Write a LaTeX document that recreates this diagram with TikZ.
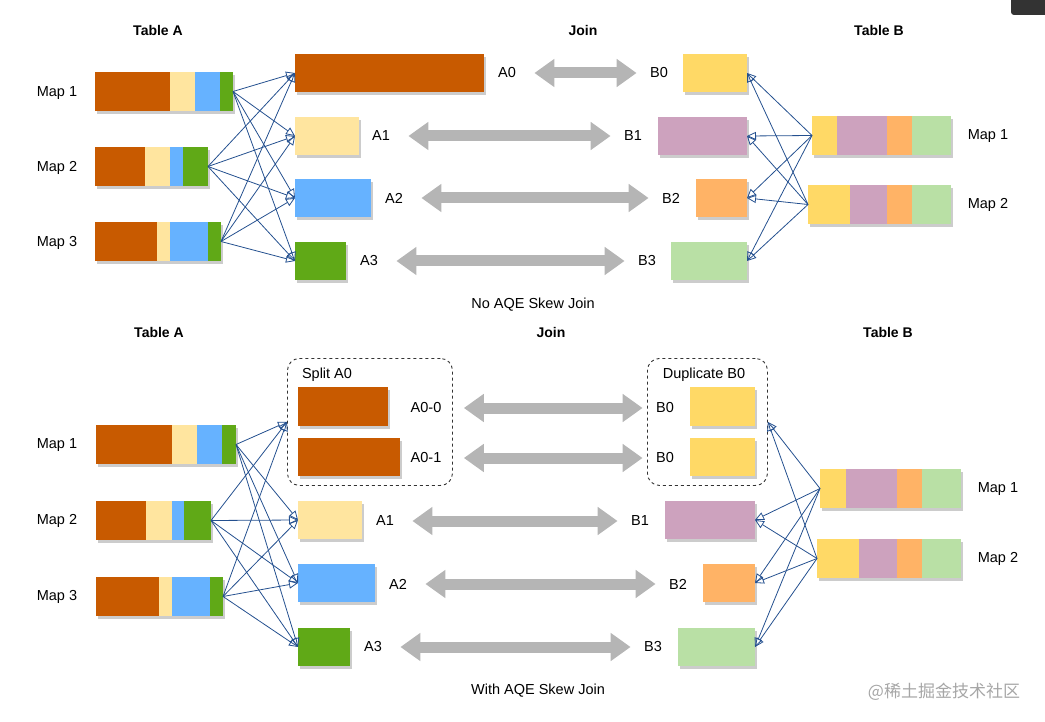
\documentclass[tikz,border=0pt]{standalone}
\usepackage{fontspec}
\setmainfont{Liberation Sans}
\newfontfamily\cjk{Noto Sans CJK SC}
\usepackage{tikz}
\usetikzlibrary{arrows.meta}
\usetikzlibrary{shadows}
\definecolor{brownA}{HTML}{C85A00}
\definecolor{yellowA}{HTML}{FFE59F}
\definecolor{blueA}{HTML}{66B2FF}
\definecolor{greenA}{HTML}{60A917}
\definecolor{yellowB}{HTML}{FFD966}
\definecolor{purpleB}{HTML}{CDA2BE}
\definecolor{orangeB}{HTML}{FFB366}
\definecolor{greenB}{HTML}{B9E0A5}
\definecolor{shuffleblue}{HTML}{24508F}
\definecolor{joingray}{HTML}{B5B5B5}

\begin{document}
\begin{tikzpicture}[x=1pt,y=-1pt,
  every node/.style={font=\fontsize{14.5}{17}\selectfont},
  title/.style={font=\bfseries\fontsize{14}{17}\selectfont},
  seg/.style={anchor=north west, inner sep=0pt, outer sep=0pt, minimum height=39pt,
    drop shadow={shadow xshift=2pt, shadow yshift=-3pt, fill=black, opacity=0.2}},
  group/.style={anchor=north west, inner sep=0pt, draw=black!80, line width=0.9pt,
    dashed, rounded corners=12pt, minimum height=127pt},
  shuffle/.style={draw=shuffleblue, line width=0.8pt, -{Triangle[open, length=9pt, width=8pt]}},
  joinarrow/.style={draw=joingray, line width=11pt,
    {Triangle[length=20pt, width=27pt]}-{Triangle[length=20pt, width=27pt]},
    shorten <=15pt, shorten >=10pt}]
  \useasboundingbox (0,0) rectangle (1045,722);
  \fill[black!80, rounded corners=3pt] (1011,-10) rectangle (1060,15);

  %% ---- No AQE Skew Join ----
  \node[title] (tA) at (158,30) {Table A};
  \node[title] (tJ) at (583,30) {Join};
  \node[title] (tB) at (879,30) {Table B};

  \node (mA1) at (57,93) {Map 1};
  \node (mA2) at (57,168) {Map 2};
  \node (mA3) at (57,243) {Map 3};

  \node[seg, fill=brownA, minimum width=75] (a1b) at (95,72) {};
  \node[seg, fill=yellowA, minimum width=25] (a1y) at (170,72) {};
  \node[seg, fill=blueA, minimum width=25] (a1u) at (195,72) {};
  \node[seg, fill=greenA, minimum width=13] (a1g) at (220,72) {};
  \node[seg, fill=brownA, minimum width=50] (a2b) at (95,147) {};
  \node[seg, fill=yellowA, minimum width=25] (a2y) at (145,147) {};
  \node[seg, fill=blueA, minimum width=13] (a2u) at (170,147) {};
  \node[seg, fill=greenA, minimum width=25] (a2g) at (183,147) {};
  \node[seg, fill=brownA, minimum width=62] (a3b) at (95,222) {};
  \node[seg, fill=yellowA, minimum width=13] (a3y) at (157,222) {};
  \node[seg, fill=blueA, minimum width=38] (a3u) at (170,222) {};
  \node[seg, fill=greenA, minimum width=13] (a3g) at (208,222) {};

  \node[seg, fill=brownA, minimum width=189, minimum height=38] (pA0) at (295,54) {};
  \node[seg, fill=yellowA, minimum width=64, minimum height=38] (pA1) at (295,117) {};
  \node[seg, fill=blueA, minimum width=76, minimum height=38] (pA2) at (295,179) {};
  \node[seg, fill=greenA, minimum width=51, minimum height=38] (pA3) at (295,242) {};
  \node (lA0) at (507,73) {A0};
  \node (lA1) at (381,136) {A1};
  \node (lA2) at (394,198) {A2};
  \node (lA3) at (369,261) {A3};

  \node[seg, fill=yellowB, minimum width=64, minimum height=38] (pB0) at (683,54) {};
  \node[seg, fill=purpleB, minimum width=89, minimum height=38] (pB1) at (658,117) {};
  \node[seg, fill=orangeB, minimum width=51, minimum height=38] (pB2) at (696,179) {};
  \node[seg, fill=greenB, minimum width=76, minimum height=38] (pB3) at (671,242) {};
  \node (lB0) at (659,73) {B0};
  \node (lB1) at (633,136) {B1};
  \node (lB2) at (671,198) {B2};
  \node (lB3) at (647,261) {B3};

  \node[seg, fill=yellowB, minimum width=25] (b1y) at (812,116) {};
  \node[seg, fill=purpleB, minimum width=50] (b1p) at (837,116) {};
  \node[seg, fill=orangeB, minimum width=25] (b1o) at (887,116) {};
  \node[seg, fill=greenB, minimum width=39] (b1g) at (912,116) {};
  \node[seg, fill=yellowB, minimum width=42] (b2y) at (808,185) {};
  \node[seg, fill=purpleB, minimum width=37] (b2p) at (850,185) {};
  \node[seg, fill=orangeB, minimum width=25] (b2o) at (887,185) {};
  \node[seg, fill=greenB, minimum width=39] (b2g) at (912,185) {};
  \node (mB1) at (988,136) {Map 1};
  \node (mB2) at (988,205) {Map 2};

  \draw[shuffle] (a1g.east) -- (pA0.west); \draw[shuffle] (a1g.east) -- (pA1.west);
  \draw[shuffle] (a1g.east) -- (pA2.west); \draw[shuffle] (a1g.east) -- (pA3.west);
  \draw[shuffle] (a2g.east) -- (pA0.west); \draw[shuffle] (a2g.east) -- (pA1.west);
  \draw[shuffle] (a2g.east) -- (pA2.west); \draw[shuffle] (a2g.east) -- (pA3.west);
  \draw[shuffle] (a3g.east) -- (pA0.west); \draw[shuffle] (a3g.east) -- (pA1.west);
  \draw[shuffle] (a3g.east) -- (pA2.west); \draw[shuffle] (a3g.east) -- (pA3.west);
  \draw[shuffle] (b1y.west) -- (pB0.east); \draw[shuffle] (b1y.west) -- (pB1.east);
  \draw[shuffle] (b1y.west) -- (pB2.east); \draw[shuffle] (b1y.west) -- (pB3.east);
  \draw[shuffle] (b2y.west) -- (pB0.east); \draw[shuffle] (b2y.west) -- (pB1.east);
  \draw[shuffle] (b2y.west) -- (pB2.east); \draw[shuffle] (b2y.west) -- (pB3.east);

  \draw[joinarrow] (lA0) -- (lB0);
  \draw[joinarrow] (lA1) -- (lB1);
  \draw[joinarrow] (lA2) -- (lB2);
  \draw[joinarrow] (lA3) -- (lB3);

  \node (capNo) at (533,305) {No AQE Skew Join};

  %% ---- With AQE Skew Join ----
  \node[title] (tA2) at (159,332) {Table A};
  \node[title] (tJ2) at (551,332) {Join};
  \node[title] (tB2) at (888,332) {Table B};

  \node (nA1) at (57,445) {Map 1};
  \node (nA2) at (57,521) {Map 2};
  \node (nA3) at (57,597) {Map 3};

  \node[seg, fill=brownA, minimum width=76] (c1b) at (96,425) {};
  \node[seg, fill=yellowA, minimum width=25] (c1y) at (172,425) {};
  \node[seg, fill=blueA, minimum width=25] (c1u) at (197,425) {};
  \node[seg, fill=greenA, minimum width=14] (c1g) at (222,425) {};
  \node[seg, fill=brownA, minimum width=50] (c2b) at (96,501) {};
  \node[seg, fill=yellowA, minimum width=26] (c2y) at (146,501) {};
  \node[seg, fill=blueA, minimum width=12] (c2u) at (172,501) {};
  \node[seg, fill=greenA, minimum width=27] (c2g) at (184,501) {};
  \node[seg, fill=brownA, minimum width=63] (c3b) at (96,577) {};
  \node[seg, fill=yellowA, minimum width=13] (c3y) at (159,577) {};
  \node[seg, fill=blueA, minimum width=38] (c3u) at (172,577) {};
  \node[seg, fill=greenA, minimum width=13] (c3g) at (210,577) {};

  \node[group, minimum width=165] (split) at (287,358) {};
  \node (splitlbl) at (327,375) {Split A0};
  \node[seg, fill=brownA, minimum width=90] (qA00) at (298,387) {};
  \node[seg, fill=brownA, minimum width=102, minimum height=38] (qA01) at (298,438) {};
  \node[seg, fill=yellowA, minimum width=64, minimum height=38] (qA1) at (298,501) {};
  \node[seg, fill=blueA, minimum width=77, minimum height=38] (qA2) at (298,564) {};
  \node[seg, fill=greenA, minimum width=52, minimum height=38] (qA3) at (298,628) {};
  \node (kA00) at (426,408) {A0-0};
  \node (kA01) at (426,458) {A0-1};
  \node (kA1) at (385,521) {A1};
  \node (kA2) at (398,584) {A2};
  \node (kA3) at (373,647) {A3};

  \node[group, minimum width=120] (dup) at (647,358) {};
  \node (duplbl) at (704,375) {Duplicate B0};
  \node[seg, fill=yellowB, minimum width=65] (qB00) at (690,387) {};
  \node[seg, fill=yellowB, minimum width=65, minimum height=38] (qB01) at (690,438) {};
  \node[seg, fill=purpleB, minimum width=90, minimum height=38] (qB1) at (665,501) {};
  \node[seg, fill=orangeB, minimum width=52, minimum height=38] (qB2) at (703,564) {};
  \node[seg, fill=greenB, minimum width=77, minimum height=38] (qB3) at (678,628) {};
  \node (kB00) at (665,408) {B0};
  \node (kB01) at (665,458) {B0};
  \node (kB1) at (640,521) {B1};
  \node (kB2) at (678,584) {B2};
  \node (kB3) at (653,647) {B3};

  \node[seg, fill=yellowB, minimum width=26] (d1y) at (820,469) {};
  \node[seg, fill=purpleB, minimum width=51] (d1p) at (846,469) {};
  \node[seg, fill=orangeB, minimum width=25] (d1o) at (897,469) {};
  \node[seg, fill=greenB, minimum width=39] (d1g) at (922,469) {};
  \node[seg, fill=yellowB, minimum width=42] (d2y) at (817,539) {};
  \node[seg, fill=purpleB, minimum width=38] (d2p) at (859,539) {};
  \node[seg, fill=orangeB, minimum width=25] (d2o) at (897,539) {};
  \node[seg, fill=greenB, minimum width=39] (d2g) at (922,539) {};
  \node (nB1) at (998,489) {Map 1};
  \node (nB2) at (998,559) {Map 2};

  \draw[shuffle] (c1g.east) -- (split.west); \draw[shuffle] (c1g.east) -- (qA1.west);
  \draw[shuffle] (c1g.east) -- (qA2.west); \draw[shuffle] (c1g.east) -- (qA3.west);
  \draw[shuffle] (c2g.east) -- (split.west); \draw[shuffle] (c2g.east) -- (qA1.west);
  \draw[shuffle] (c2g.east) -- (qA2.west); \draw[shuffle] (c2g.east) -- (qA3.west);
  \draw[shuffle] (c3g.east) -- (split.west); \draw[shuffle] (c3g.east) -- (qA1.west);
  \draw[shuffle] (c3g.east) -- (qA2.west); \draw[shuffle] (c3g.east) -- (qA3.west);
  \draw[shuffle] (d1y.west) -- (dup.east); \draw[shuffle] (d1y.west) -- (qB1.east);
  \draw[shuffle] (d1y.west) -- (qB2.east); \draw[shuffle] (d1y.west) -- (qB3.east);
  \draw[shuffle] (d2y.west) -- (dup.east); \draw[shuffle] (d2y.west) -- (qB1.east);
  \draw[shuffle] (d2y.west) -- (qB2.east); \draw[shuffle] (d2y.west) -- (qB3.east);

  \draw[joinarrow, shorten <=19pt] (kA00) -- (kB00);
  \draw[joinarrow, shorten <=19pt] (kA01) -- (kB01);
  \draw[joinarrow] (kA1) -- (kB1);
  \draw[joinarrow] (kA2) -- (kB2);
  \draw[joinarrow] (kA3) -- (kB3);

  \node (capWith) at (538,691) {With AQE Skew Join};
  \node[font=\cjk\fontsize{17}{20}\selectfont, text=black!35] (mark) at (944,692) {@稀土掘金技术社区};
\end{tikzpicture}
\end{document}
